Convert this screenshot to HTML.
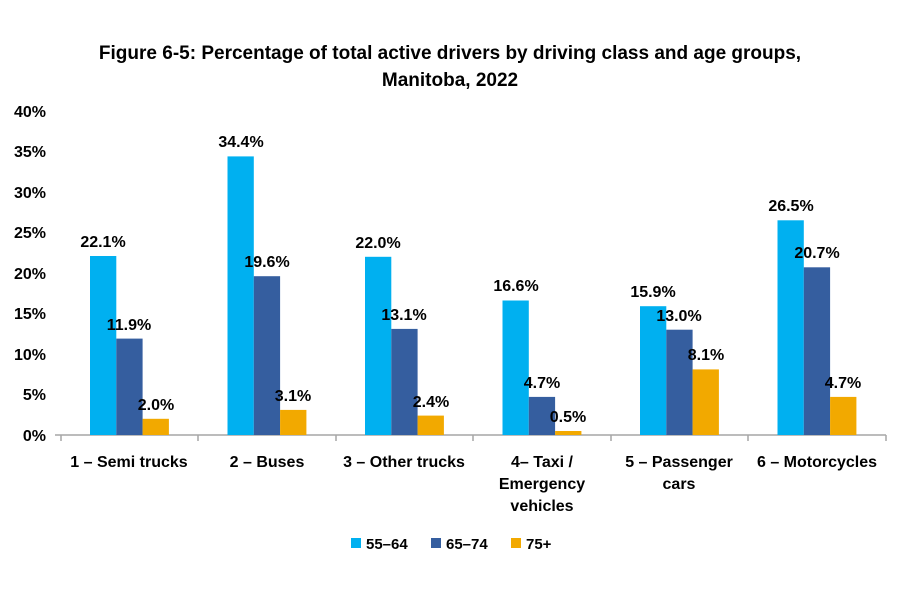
<!DOCTYPE html>
<html><head><style>body{margin:0;background:#fff}</style></head><body>
<svg width="900" height="600" xmlns="http://www.w3.org/2000/svg" font-family="'Liberation Sans', sans-serif" font-weight="bold">
<rect width="900" height="600" fill="#fff"/>
<text x="450" y="59" text-anchor="middle" font-size="19">Figure 6-5: Percentage of total active drivers by driving class and age groups,</text>
<text x="450" y="86" text-anchor="middle" font-size="19">Manitoba, 2022</text>
<g font-size="16" text-anchor="end" fill="#000">
<text x="46" y="441">0%</text><text x="46" y="400">5%</text><text x="46" y="360">10%</text><text x="46" y="319">15%</text><text x="46" y="279">20%</text><text x="46" y="238">25%</text><text x="46" y="198">30%</text><text x="46" y="157">35%</text><text x="46" y="117">40%</text>
</g>
<g stroke="#a6a6a6" stroke-width="1.5">
<line x1="55" y1="435" x2="886" y2="435"/>
<line x1="61" y1="435" x2="61" y2="441"/><line x1="198" y1="435" x2="198" y2="441"/><line x1="336" y1="435" x2="336" y2="441"/><line x1="473" y1="435" x2="473" y2="441"/><line x1="611" y1="435" x2="611" y2="441"/><line x1="748" y1="435" x2="748" y2="441"/><line x1="886" y1="435" x2="886" y2="441"/>
</g>
<g>
<rect x="90" y="256.0" width="26.3" height="179.0" fill="#00B0F0"/>
<rect x="116.3" y="338.6" width="26.3" height="96.4" fill="#355E9F"/>
<rect x="142.6" y="418.8" width="26.3" height="16.2" fill="#F2A900"/>
<rect x="227.5" y="156.4" width="26.3" height="278.6" fill="#00B0F0"/>
<rect x="253.8" y="276.2" width="26.3" height="158.8" fill="#355E9F"/>
<rect x="280.1" y="409.9" width="26.3" height="25.1" fill="#F2A900"/>
<rect x="365" y="256.8" width="26.3" height="178.2" fill="#00B0F0"/>
<rect x="391.3" y="328.9" width="26.3" height="106.1" fill="#355E9F"/>
<rect x="417.6" y="415.6" width="26.3" height="19.4" fill="#F2A900"/>
<rect x="502.5" y="300.5" width="26.3" height="134.5" fill="#00B0F0"/>
<rect x="528.8" y="396.9" width="26.3" height="38.1" fill="#355E9F"/>
<rect x="555.1" y="431.0" width="26.3" height="4.0" fill="#F2A900"/>
<rect x="640" y="306.2" width="26.3" height="128.8" fill="#00B0F0"/>
<rect x="666.3" y="329.7" width="26.3" height="105.3" fill="#355E9F"/>
<rect x="692.6" y="369.4" width="26.3" height="65.6" fill="#F2A900"/>
<rect x="777.5" y="220.3" width="26.3" height="214.7" fill="#00B0F0"/>
<rect x="803.8" y="267.3" width="26.3" height="167.7" fill="#355E9F"/>
<rect x="830.1" y="396.9" width="26.3" height="38.1" fill="#F2A900"/>
</g>
<g font-size="16" text-anchor="middle">
<text x="103" y="247">22.1%</text>
<text x="129" y="330">11.9%</text>
<text x="156" y="410">2.0%</text>
<text x="241" y="147">34.4%</text>
<text x="267" y="267">19.6%</text>
<text x="293" y="401">3.1%</text>
<text x="378" y="248">22.0%</text>
<text x="404" y="320">13.1%</text>
<text x="431" y="407">2.4%</text>
<text x="516" y="291">16.6%</text>
<text x="542" y="388">4.7%</text>
<text x="568" y="422">0.5%</text>
<text x="653" y="297">15.9%</text>
<text x="679" y="321">13.0%</text>
<text x="706" y="360">8.1%</text>
<text x="791" y="211">26.5%</text>
<text x="817" y="258">20.7%</text>
<text x="843" y="388">4.7%</text>
</g>
<g font-size="16" text-anchor="middle">
<text x="129" y="467">1 – Semi trucks</text>
<text x="267" y="467">2 – Buses</text>
<text x="404" y="467">3 – Other trucks</text>
<text x="542" y="467">4– Taxi /</text><text x="542" y="489">Emergency</text><text x="542" y="511">vehicles</text>
<text x="679" y="467">5 – Passenger</text><text x="679" y="489">cars</text>
<text x="817" y="467">6 – Motorcycles</text>
</g>
<g font-size="15">
<rect x="351" y="538" width="10" height="10" fill="#00B0F0"/><text x="366" y="549">55–64</text>
<rect x="431" y="538" width="10" height="10" fill="#355E9F"/><text x="446" y="549">65–74</text>
<rect x="511" y="538" width="10" height="10" fill="#F2A900"/><text x="526" y="549">75+</text>
</g>
</svg>
</body></html>
